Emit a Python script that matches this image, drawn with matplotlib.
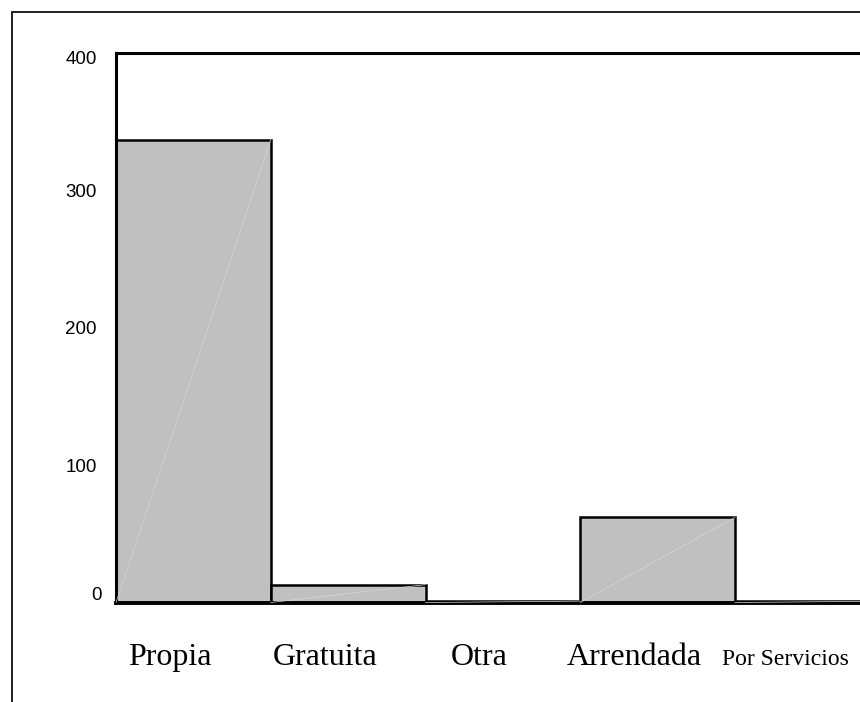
import numpy as np
import matplotlib
matplotlib.use("Agg")
import matplotlib.pyplot as plt
import matplotlib.transforms as mtransforms
from matplotlib.patches import Rectangle

categories = ["Propia", "Gratuita", "Otra", "Arrendada", "Por Servicios"]
values = [337, 13, 1, 62, 1]
label_sizes = [23, 23, 23, 23, 17]
yticks = [0, 100, 200, 300, 400]

W, H = 860, 702
fig = plt.figure(figsize=(W / 100, H / 100), dpi=100)

# outer frame (right/bottom edges fall outside the picture)
fig.patches.append(Rectangle((12 / W, -0.05), 1.1, (H - 12) / H + 0.05,
                             transform=fig.transFigure, fill=False,
                             edgecolor="#202020", linewidth=1.4))

left, right = 116, 116 + 5 * 154.75
top, bottom = 53, 602.5
ax = fig.add_axes([left / W, (H - bottom) / H, (right - left) / W, (bottom - top) / H])

ind = np.arange(len(categories))
ax.bar(ind, values, width=1.0, color="#c0c0c0", edgecolor="black", linewidth=1.8, zorder=2)

# faint diagonal seen inside each bar
for i, v in zip(ind, values):
    ax.plot([i - 0.5, i + 0.5], [0, v], color="#d6d6d6", linewidth=0.5, zorder=3)

ax.set_xlim(-0.5, 4.5)
ax.set_ylim(0, 400)
ax.set_yticks(yticks)
ax.set_yticklabels([str(t) for t in yticks], fontsize=13.5, family="Liberation Sans")
ax.tick_params(axis="y", length=0, pad=14)
ax.set_xticks([])

# the end labels sit a little inside the axis range
shifts = {0: (5, 9), 400: (0, -4)}
for t, lab in zip(yticks, ax.get_yticklabels()):
    if t in shifts:
        dx, dy = shifts[t]
        lab.set_transform(lab.get_transform() +
                          mtransforms.ScaledTranslation(dx / 100, dy / 100, fig.dpi_scale_trans))

for i, (c, s) in enumerate(zip(categories, label_sizes)):
    off = 0.15 if i < 4 else 0.175
    ax.text(i - off, -0.113, c, transform=ax.get_xaxis_transform(),
            ha="center", va="baseline", fontsize=s, family="Liberation Serif")

for side in ["left", "top"]:
    ax.spines[side].set_linewidth(2.2)
ax.spines["bottom"].set_linewidth(2.8)
ax.spines["right"].set_linewidth(2.2)

fig.savefig("out.png", dpi=100)
